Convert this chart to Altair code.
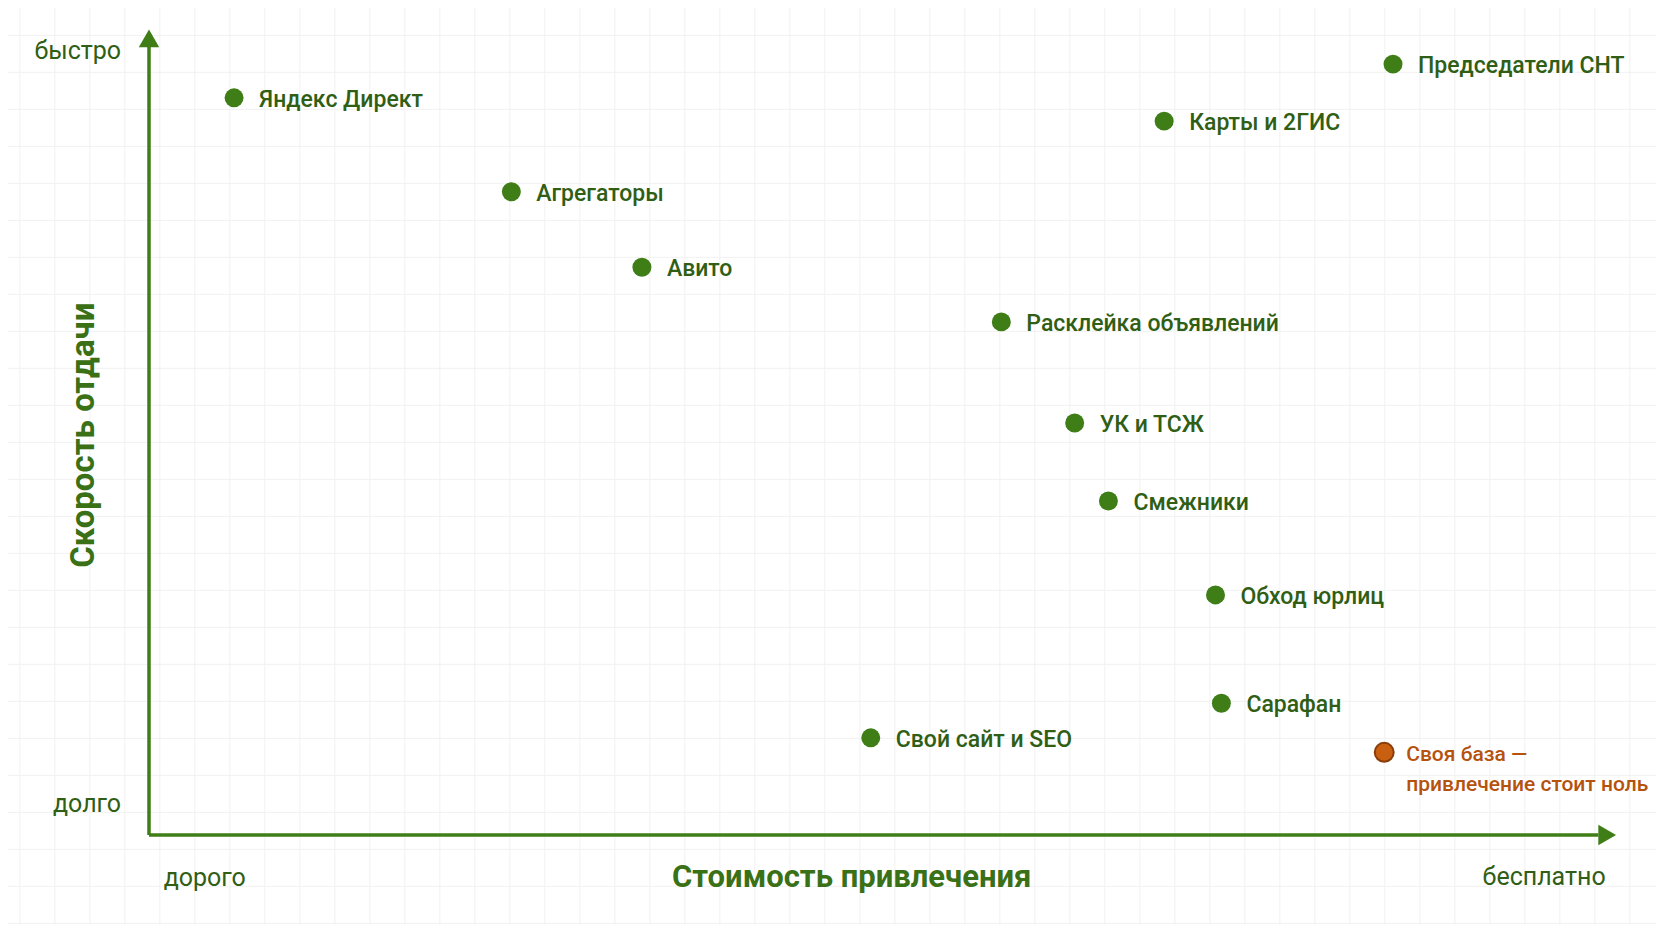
import numpy as np
import pandas as pd
import altair as alt

# channels: x = cheapness of acquisition (0 expensive .. 100 free), y = payback speed (0 slow .. 100 fast)
names = ["Яндекс Директ", "Агрегаторы", "Авито", "Расклейка объявлений", "УК и ТСЖ",
         "Смежники", "Обход юрлиц", "Сарафан", "Свой сайт и SEO",
         "Председатели СНТ", "Карты и 2ГИС"]
cost = [5.8, 24.7, 33.6, 58.1, 63.1, 65.4, 72.7, 73.1, 49.2, 84.8, 69.2]
speed = [91.8, 80.1, 70.7, 63.9, 51.3, 41.6, 29.9, 16.4, 12.1, 96.0, 88.9]

own_name = ["Своя база —", "привлечение стоит ноль"]
own_cost = [84.2]
own_speed = [10.3]

GREEN = "#3f7d17"
TEXT_GREEN = "#2f5e14"
ORANGE = "#c95f10"
FONT = "Roboto"

W, H = 1467, 803

pts = pd.DataFrame({"name": names, "cost": cost, "speed": speed})
own = pd.DataFrame({"name": [own_name], "cost": own_cost, "speed": own_speed})

xs = alt.Scale(domain=[0, 100], nice=False, zero=False)
ys = alt.Scale(domain=[0, 100], nice=False, zero=False)

def X(f):
    return alt.X(f, type="quantitative", scale=xs, axis=None)

def Y(f):
    return alt.Y(f, type="quantitative", scale=ys, axis=None)

# faint notebook grid over the whole picture
gx = pd.DataFrame({"g": np.arange(-8.8, 104, 35 / W * 100)})
gy = pd.DataFrame({"g": np.arange(-11, 104, 37 / H * 100)})
grid_v = alt.Chart(gx).mark_rule(color="#f1f1f1", strokeWidth=1, clip=False).encode(
    x=X("g"), y=alt.value(-40), y2=alt.value(H + 120))
grid_h = alt.Chart(gy).mark_rule(color="#f1f1f1", strokeWidth=1, clip=False).encode(
    y=Y("g"), x=alt.value(-160), x2=alt.value(W + 60))

# axes as arrows
ax = pd.DataFrame({"x0": [0], "x1": [98.8], "y0": [0], "y1": [98.5]})
x_line = alt.Chart(ax).mark_rule(color=GREEN, strokeWidth=3.5).encode(
    x=X("x0"), x2="x1", y=Y("y0"))
y_line = alt.Chart(ax).mark_rule(color=GREEN, strokeWidth=3.5).encode(
    y=Y("y0"), y2="y1", x=X("x0"))
heads = pd.DataFrame({"hx": [99.4, 0], "hy": [0, 99.2],
                      "shape": ["triangle-right", "triangle-up"]})
arrow_heads = alt.Chart(heads).mark_point(filled=True, size=420, opacity=1,
                                          color=GREEN, clip=False).encode(
    x=X("hx"), y=Y("hy"),
    shape=alt.Shape("shape:N", scale=None, legend=None))

dots = alt.Chart(pts).mark_circle(size=360, color=GREEN, opacity=1).encode(
    x=X("cost"), y=Y("speed"))
labels = alt.Chart(pts).mark_text(align="left", baseline="middle", dx=25, dy=2,
                                  font=FONT, fontSize=23, fontWeight=500,
                                  color=TEXT_GREEN).encode(
    x=X("cost"), y=Y("speed"), text="name:N")

own_dot = alt.Chart(own).mark_circle(size=360, color=ORANGE, opacity=1,
                                     stroke="#8a3d08", strokeWidth=2).encode(
    x=X("cost"), y=Y("speed"))
own_label = alt.Chart(own).mark_text(align="left", baseline="top", dx=22, dy=-8,
                                     lineHeight=30, font=FONT, fontSize=21,
                                     fontWeight=500, color="#b5520d").encode(
    x=X("cost"), y=Y("speed"), text="name")

# end labels and axis titles
ends = pd.DataFrame({
    "t": ["быстро", "долго", "дорого", "бесплатно"],
    "x": [-1.9, -1.9, 1.0, 99.3],
    "y": [97.6, 3.9, -5.3, -5.2],
    "a": ["right", "right", "left", "right"],
})
end_left = alt.Chart(ends[ends.a == "left"]).mark_text(
    align="left", baseline="middle", font=FONT, fontSize=25, color=TEXT_GREEN,
    clip=False).encode(x=X("x"), y=Y("y"), text="t:N")
end_right = alt.Chart(ends[ends.a == "right"]).mark_text(
    align="right", baseline="middle", font=FONT, fontSize=25, color=TEXT_GREEN,
    clip=False).encode(x=X("x"), y=Y("y"), text="t:N")

titles = pd.DataFrame({"t": ["Стоимость привлечения"], "x": [47.9], "y": [-5.3]})
x_title = alt.Chart(titles).mark_text(
    align="center", baseline="middle", font=FONT, fontSize=31, fontWeight="bold",
    color="#3a7016").encode(x=X("x"), y=Y("y"), text="t:N")
ytitles = pd.DataFrame({"t": ["Скорость отдачи"], "x": [-4.4], "y": [49.8]})
y_title = alt.Chart(ytitles).mark_text(
    align="center", baseline="middle", angle=270, font=FONT, fontSize=33,
    fontWeight="bold", color="#3a7016").encode(x=X("x"), y=Y("y"), text="t:N")

chart = alt.layer(
    grid_v, grid_h, x_line, y_line, arrow_heads, dots, labels, own_dot, own_label,
    end_left, end_right, x_title, y_title,
).properties(
    width=W, height=H,
    autosize=alt.AutoSizeParams(type="none"),
    padding={"left": 141, "top": 24, "right": 40, "bottom": 90},
    background="#ffffff",
).configure_view(stroke=None, clip=False)

chart.save("out.html", embed_options={"renderer": "svg", "actions": False})
